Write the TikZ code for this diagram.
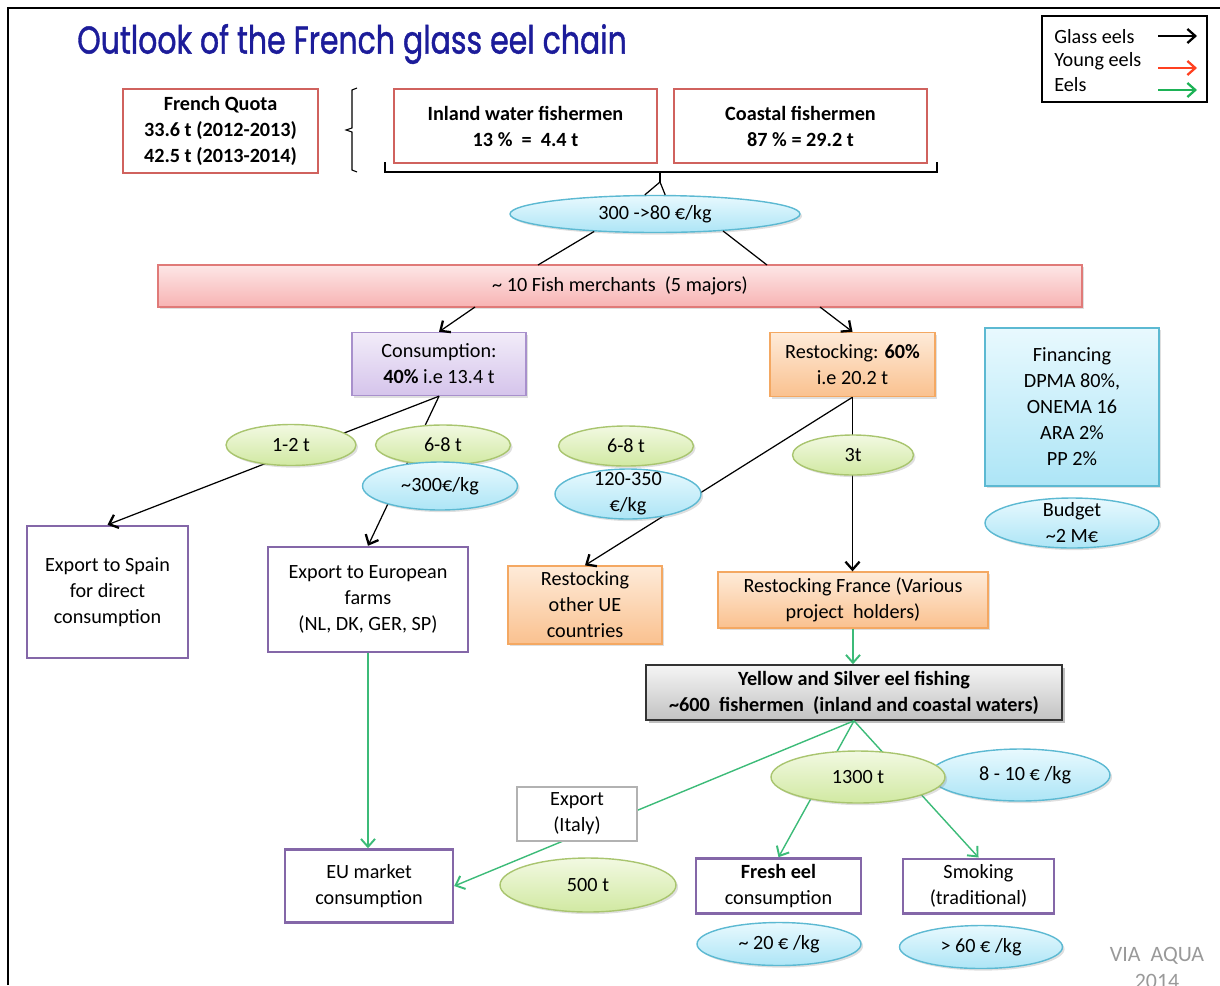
\documentclass[tikz,border=0pt]{standalone}
\usepackage{fontspec}
\setmainfont{Carlito}
\newfontfamily\titlefont{Poppins}[FakeBold=1.2]
\usetikzlibrary{shapes.geometric, arrows.meta, shadows}
\definecolor{titleblue}{HTML}{1C1C9A}
\definecolor{quotared}{HTML}{D0625E}
\definecolor{merchtop}{HTML}{FDE6E6}
\definecolor{merchbot}{HTML}{F7B3B3}
\definecolor{merchline}{HTML}{E07A78}
\definecolor{constop}{HTML}{F2ECF9}
\definecolor{consbot}{HTML}{D5C4EB}
\definecolor{consline}{HTML}{A890CC}
\definecolor{resttop}{HTML}{FEEBD9}
\definecolor{restbot}{HTML}{FAC18F}
\definecolor{restline}{HTML}{F4A862}
\definecolor{bluetop}{HTML}{E8F9FE}
\definecolor{bluebot}{HTML}{ADE5F6}
\definecolor{blueline}{HTML}{5CB9D2}
\definecolor{greentop}{HTML}{F2F9E2}
\definecolor{greenbot}{HTML}{D1E9A2}
\definecolor{greenline}{HTML}{A9C56F}
\definecolor{framepurple}{HTML}{8467A8}
\definecolor{graytop}{HTML}{F5F5F5}
\definecolor{graybot}{HTML}{C2C2C2}
\definecolor{eelgreen}{HTML}{3CBB78}
\definecolor{youngred}{HTML}{FF4020}
\definecolor{legendgreen}{HTML}{1DB256}

\begin{document}
\begin{tikzpicture}[x = 0.02cm, y = -0.02cm, font = \fontsize{11.5}{14.8}\selectfont]
\tikzstyle{quotabox}=[
rectangle,
draw = quotared,
line width = 1.3pt,
fill = white,
align = center,
font = \fontsize{11.5}{14.8}\selectfont\bfseries]
\tikzstyle{shade}=[drop shadow = {shadow xshift = 1.2pt, shadow yshift = -1.2pt, opacity = 0.25}]
\tikzstyle{merchbox}=[rectangle, draw = merchline, line width = 0.8pt, top color = merchtop, bottom color = merchbot, shade]
\tikzstyle{consbox}=[rectangle, draw = consline, line width = 0.8pt, top color = constop, bottom color = consbot, align = center, shade]
\tikzstyle{restbox}=[rectangle, draw = restline, line width = 0.8pt, top color = resttop, bottom color = restbot, align = center, shade]
\tikzstyle{finbox}=[rectangle, draw = blueline, line width = 0.8pt, top color = bluetop, bottom color = bluebot, align = center, shade]
\tikzstyle{framebox}=[rectangle, draw = framepurple, line width = 1.4pt, fill = white, align = center]
\tikzstyle{graybox}=[rectangle, draw = black!80, line width = 0.9pt, top color = graytop, bottom color = graybot, align = center, font = \fontsize{11.5}{14.8}\selectfont\bfseries, drop shadow = {shadow xshift = 1.5pt, shadow yshift = -1.5pt, opacity = 0.5}]
\tikzstyle{tonnes}=[ellipse, draw = greenline, line width = 0.8pt, top color = greentop, bottom color = greenbot, inner xsep = 0pt, inner ysep = -3pt, shade]
\tikzstyle{price}=[ellipse, draw = blueline, line width = 0.8pt, top color = bluetop, bottom color = bluebot, align = center, inner xsep = 0pt, inner ysep = -3pt, shade]
\tikzstyle{glassline}=[draw = black, line width = 0.7pt]
\tikzstyle{glass}=[glassline, -{Straight Barb[length = 4.5pt, width = 8pt, line width = 1.3pt]}]
\tikzstyle{eelline}=[draw = eelgreen, line width = 0.8pt]
\tikzstyle{eel}=[eelline, -{Straight Barb[length = 4.5pt, width = 8pt, line width = 1.1pt]}]
\useasboundingbox (0,0) rectangle (1220,985);
\draw[line width = 1.4pt] (8,985) -- (8,8) -- (1220,8);

\node[anchor = west, text = titleblue, font = \titlefont\fontsize{22}{26}\selectfont] (title) at (71,44) {\scalebox{0.775}[1]{Outlook of the French glass eel chain}};

\node[draw, line width = 0.8pt, minimum width = 3.3cm, minimum height = 1.72cm] (legend) at (1124.5,59) {};
\node[anchor = west, inner sep = 0pt] (lglass) at (1054,37) {Glass eels};
\node[anchor = west, inner sep = 0pt] (lyoung) at (1054,61) {Young eels};
\node[anchor = west, inner sep = 0pt] (leel) at (1054,85) {Eels};
\coordinate (a1) at (1158,36);
\coordinate (b1) at (1197,36);
\coordinate (a2) at (1158,68);
\coordinate (b2) at (1197,68);
\coordinate (a3) at (1158,90);
\coordinate (b3) at (1197,90);
\draw[glass] (a1) -- (b1);
\draw[glass, draw = youngred] (a2) -- (b2);
\draw[glass, draw = legendgreen] (a3) -- (b3);

\node[quotabox, minimum width = 3.9cm, minimum height = 1.68cm] (quota) at (220.5,131) {French Quota\\33.6 t (2012-2013)\\42.5 t (2013-2014)};
\draw[line width = 0.6pt] (357,88) -- (352,90) -- (352,128) -- (346,130) -- (352,132) -- (352,170) -- (357,172);
\node[quotabox, minimum width = 5.26cm, minimum height = 1.48cm] (inland) at (525.5,126) {Inland water fishermen\\13 \%\ \ =\ \ 4.4 t};
\node[quotabox, minimum width = 5.06cm, minimum height = 1.48cm] (coastal) at (800.5,126) {Coastal fishermen\\87 \% = 29.2 t};
\draw[line width = 0.7pt] (385,162) |- (660,172) -| (937,162);
\coordinate (brtip) at (660,182);
\draw[line width = 0.7pt] (660,172) -- (brtip);

\node[price, minimum width = 5.8cm, minimum height = 0.74cm] (pquota) at (655,214) {300 ->80 €/kg};
\draw[glassline] (brtip) -- (pquota.118);
\draw[glassline] (brtip) -- (pquota.62);

\node[merchbox, minimum width = 18.48cm, minimum height = 0.84cm] (merch) at (620,286) {\textasciitilde\ 10 Fish merchants\ \ (5 majors)};
\coordinate (ml) at (538,265);
\coordinate (mr) at (767,265);
\coordinate (m1) at (475,307);
\coordinate (m2) at (820,307);
\draw[glassline] (pquota.196) -- (ml);
\draw[glassline] (pquota.346) -- (mr);

\node[consbox, minimum width = 3.48cm, minimum height = 1.26cm] (cons) at (439,364) {Consumption:\\\textbf{40\%} i.e 13.4 t};
\node[restbox, minimum width = 3.3cm, minimum height = 1.28cm] (rest) at (852.5,364.5) {Restocking: \textbf{60\%}\\i.e 20.2 t};
\node[finbox, minimum width = 3.48cm, minimum height = 3.16cm] (fin) at (1072,407) {Financing\\DPMA 80\%,\\ONEMA 16\\ARA 2\%\\PP 2\%};
\draw[glass] (m1) -- (cons.north);
\draw[glass] (m2) -- (rest.north);

\node[framebox, minimum width = 3.22cm, minimum height = 2.64cm] (spain) at (107.5,592) {Export to Spain\\for direct\\consumption};
\node[framebox, minimum width = 4cm, minimum height = 2.1cm] (europe) at (368,599.5) {Export to European\\farms\\(NL, DK, GER, SP)};
\node[restbox, minimum width = 3.08cm, minimum height = 1.48cm] (otherue) at (585,605) {Restocking\\other UE\\countries};
\node[restbox, minimum width = 5.4cm, minimum height = 1.06cm] (france) at (853,600) {Restocking France (Various\\project\ \ holders)};
\node[graybox, minimum width = 8.32cm, minimum height = 1.04cm] (yellow) at (854,692.5) {Yellow and Silver eel fishing\\\textasciitilde600\ \ fishermen\ \ (inland and coastal waters)};
\node[framebox, minimum width = 3.36cm, minimum height = 1.46cm] (eu) at (369,886) {EU market\\consumption};
\node[framebox, minimum width = 3.3cm, minimum height = 1.08cm] (fresh) at (778.5,886) {\textbf{Fresh eel}\\consumption};
\node[framebox, minimum width = 3.02cm, minimum height = 1.08cm] (smoke) at (978.5,886) {Smoking\\(traditional)};

\draw[glass] (cons.south) -- (spain.north);
\draw[glass] (cons.south) -- (europe.north);
\draw[glass] (rest.south) -- (otherue.north);
\draw[glass] (rest.south) -- (rest.south |- france.north);
\draw[eel] (europe.south) -- (europe.south |- eu.north);
\draw[eel] (france.south) -- (france.south |- yellow.north);
\draw[eel] (yellow.south) -- (eu.east);
\draw[eel] (yellow.south) -- (fresh.north);
\draw[eel] (yellow.south) -- (smoke.north);

\node[rectangle, draw = black!30, line width = 0.8pt, fill = white, align = center, minimum width = 2.4cm, minimum height = 1.06cm] (export) at (577,814) {Export\\(Italy)};

\node[tonnes, minimum width = 2.6cm, minimum height = 0.82cm] (t12) at (291,445) {1-2 t};
\node[tonnes, minimum width = 2.7cm, minimum height = 0.8cm] (t68a) at (443,445) {6-8 t};
\node[price, minimum width = 3.1cm, minimum height = 0.96cm] (p300) at (440,486) {\textasciitilde300€/kg};
\node[tonnes, minimum width = 2.7cm, minimum height = 0.8cm] (t68b) at (626,446) {6-8 t};
\node[price, minimum width = 2.92cm, minimum height = 1cm] (p120) at (628,494) {120-350\\€/kg};
\node[tonnes, minimum width = 2.42cm, minimum height = 0.8cm] (t3) at (853,455) {3t};
\node[price, minimum width = 3.48cm, minimum height = 1cm] (budget) at (1072,523) {Budget\\\textasciitilde2 M€};
\node[price, minimum width = 3.6cm, minimum height = 1.04cm] (p810) at (1020,775) {\hspace{0.5em}8 - 10 € /kg};
\node[tonnes, minimum width = 3.48cm, minimum height = 1.04cm] (t1300) at (858,777) {1300 t};
\node[tonnes, minimum width = 3.52cm, minimum height = 1.08cm] (t500) at (588,885) {500 t};
\node[price, minimum width = 3.28cm, minimum height = 0.86cm] (p20) at (779,944) {\textasciitilde\ 20 € /kg};
\node[price, minimum width = 3.26cm, minimum height = 0.86cm] (p60) at (981,947) {> 60 € /kg};

\node[text = black!40, font = \fontsize{12.5}{15}\selectfont, align = center] (via) at (1157,968) {VIA\ \ AQUA\\2014};
\end{tikzpicture}
\end{document}
